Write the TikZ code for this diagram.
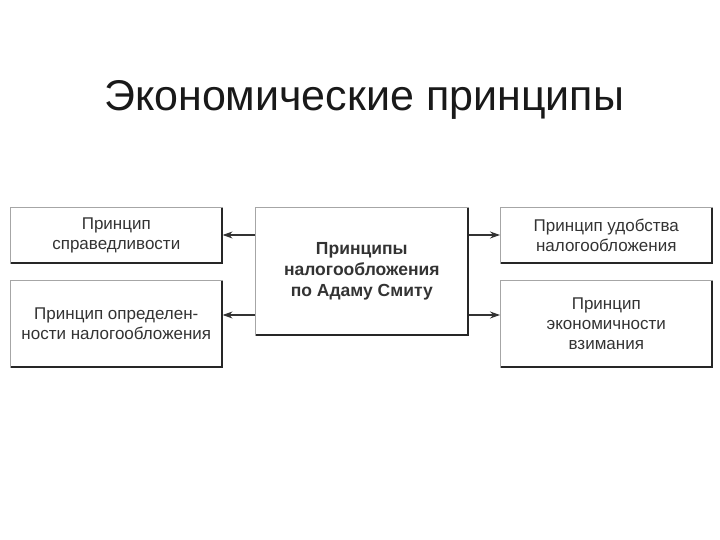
\documentclass[tikz,border=0pt]{standalone}
\usepackage{fontspec}
\setmainfont{Liberation Sans}
\usetikzlibrary{arrows.meta}
\begin{document}
\begin{tikzpicture}[x=1pt,y=-1pt,
  bx/.style={draw=gray!70,line width=0.6pt,fill=white,
    align=center,font=\fontsize{17}{20}\selectfont,text=black!80,inner sep=0pt},
  sh/.style={draw=black!85,line width=1.6pt},
  ar/.style={-{Stealth[length=10pt,width=7pt]},line width=1.1pt,draw=black!80}]
\useasboundingbox (0,0) rectangle (720,540);
\node[font=\fontsize{43}{48}\selectfont,text=black!90] (title) at (364,100) {Экономические принципы};
\newcommand{\mybox}[6]{%
  \node[bx,minimum width=#3-#1,minimum height=#4-#2,anchor=north west] (#5) at (#1,#2) {#6};
  \draw[sh] (#1+1,#4) -- (#3,#4) -- (#3,#2+1);}
\mybox{10}{207}{222}{263}{lt}{Принцип\\справедливости}
\mybox{10}{280}{222}{367}{lb}{Принцип определен-\\ности налогообложения}
\mybox{500}{207}{712}{263}{rt}{Принцип удобства\\налогообложения}
\mybox{500}{280}{712}{367}{rb}{Принцип\\экономичности\\взимания}
\node[bx,minimum width=213,minimum height=128,anchor=north west,font=\bfseries\fontsize{17.5}{21}\selectfont] (c) at (255,207) {Принципы\\налогообложения\\по Адаму Смиту};
\draw[sh] (256,335) -- (468,335) -- (468,208);
\draw[ar] (c.west|-0,235) -- (lt.east|-0,235);
\draw[ar] (c.west|-0,315) -- (lb.east|-0,315);
\draw[ar] (c.east|-0,235) -- (rt.west|-0,235);
\draw[ar] (c.east|-0,315) -- (rb.west|-0,315);
\end{tikzpicture}
\end{document}
